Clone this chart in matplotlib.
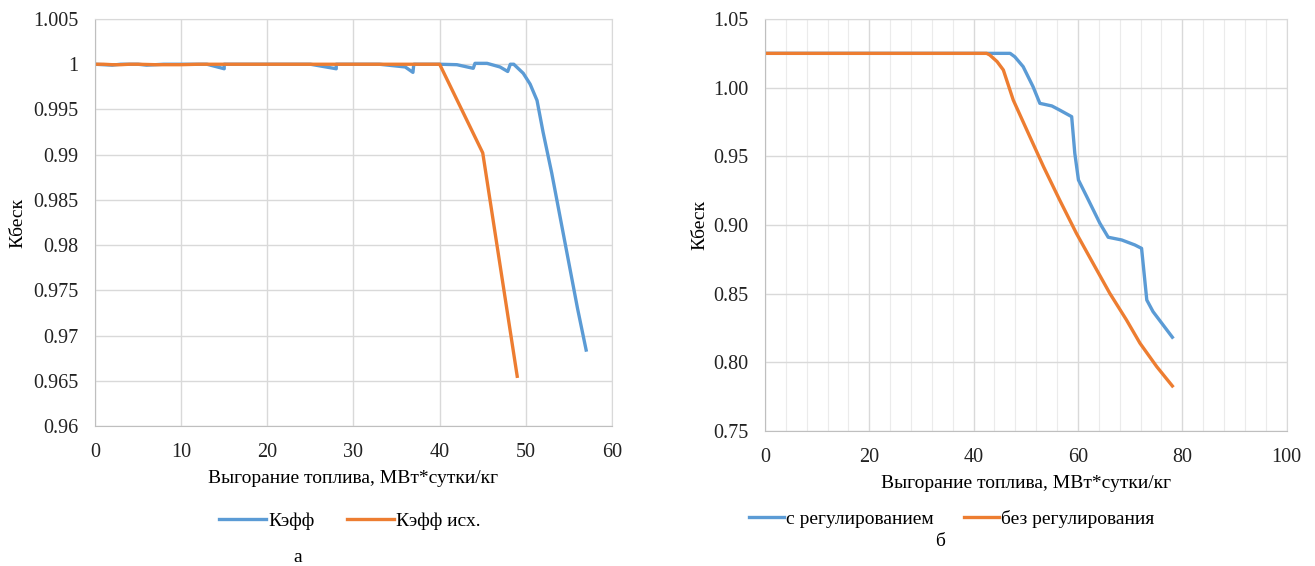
import matplotlib.pyplot as plt
from matplotlib.ticker import FuncFormatter, MultipleLocator

# --- data: left chart (а) ---
keff_x = [0, 2, 3, 5, 6, 8, 10, 13, 15, 15, 25, 28, 28, 33, 36, 36.9, 37, 40, 42,
          43.9, 44.1, 45.5, 47, 47.9, 48.2, 48.6, 49.7, 50.5, 51.3, 52, 53, 54, 55, 56, 57]
keff_y = [1.0, 0.9999, 1.0, 1.0, 0.9999, 1.0, 1.0, 1.0, 0.9995, 1.0, 1.0, 0.9995, 1.0,
          1.0, 0.9997, 0.9991, 1.0, 1.0, 0.99995, 0.99955, 1.0001, 1.0001, 0.9997,
          0.9992, 1.0, 1.0, 0.999, 0.9978, 0.996, 0.9925, 0.988, 0.983, 0.978, 0.973, 0.9684]
keff0_x = [0, 1, 2, 3, 4, 5, 7, 9, 10, 12, 13, 40, 45, 49]
keff0_y = [1.0, 1.0, 0.99995, 0.99995, 1.0, 1.0, 0.99995, 0.99995, 0.99995, 1.0, 1.0,
           1.0, 0.9902, 0.9655]

# --- data: right chart (б) ---
reg_x = [0, 47.0, 47.9, 49.5, 51.4, 52.7, 55.0, 56.5, 58.8, 59.4, 60.1, 61.7, 64.2,
         65.8, 68.4, 70.9, 72.2, 73.2, 74.4, 78.1]
reg_y = [1.025, 1.025, 1.0225, 1.0153, 1.0007, 0.9886, 0.9867, 0.9837, 0.9789, 0.9522,
         0.9328, 0.9206, 0.9013, 0.8911, 0.8891, 0.8855, 0.883, 0.8454, 0.8369, 0.8183]
noreg_x = [0, 42.5, 43.1, 44.5, 45.7, 47.6, 50.2, 53.4, 56.5, 59.7, 62.9, 66.1, 69.3,
           71.9, 75.1, 78.1]
noreg_y = [1.025, 1.025, 1.0238, 1.019, 1.0129, 0.991, 0.9692, 0.9425, 0.9182, 0.894,
           0.8721, 0.8503, 0.8309, 0.8139, 0.7969, 0.7828]

xlabel = "Выгорание топлива, МВт*сутки/кг"
ylabel = "Кбеск"

plt.rcParams["font.family"] = ["Liberation Serif", "DejaVu Serif"]
blue = "#5b9bd5"
orange = "#ed7d31"
grid_c = "#d9d9d9"

fig = plt.figure(figsize=(13.15, 5.66), dpi=100)
ax1 = fig.add_axes([0.0722, 0.2473, 0.3932, 0.7191])
ax2 = fig.add_axes([0.5817, 0.2385, 0.3967, 0.7279])


def style(ax):
    ax.grid(True, which="major", color=grid_c, lw=1)
    ax.set_axisbelow(True)
    for s in ax.spines.values():
        s.set_color(grid_c)
    ax.spines["left"].set_color("#bfbfbf")
    ax.spines["bottom"].set_color("#bfbfbf")
    ax.tick_params(length=0, labelsize=14.5, colors="#222222")
    ax.tick_params(axis="x", pad=12)
    ax.set_xlabel(xlabel, fontsize=14, labelpad=6)
    ax.set_ylabel(ylabel, fontsize=14)


# left chart
ax1.plot(keff_x, keff_y, color=blue, lw=2.4, label="Кэфф")
ax1.plot(keff0_x, keff0_y, color=orange, lw=2.4, label="Кэфф исх.")
ax1.set_xlim(0, 60)
ax1.set_ylim(0.96, 1.005)
ax1.xaxis.set_major_locator(MultipleLocator(10))
ax1.yaxis.set_major_locator(MultipleLocator(0.005))
ax1.yaxis.set_major_formatter(FuncFormatter(lambda v, p: f"{round(v, 4):g}"))
style(ax1)
ax1.tick_params(axis="y", pad=12)
ax1.yaxis.set_label_coords(-0.133, 0.5)
ax1.legend(loc="center", bbox_to_anchor=(0.493, -0.233), ncol=2, frameon=False,
           fontsize=14, handlelength=2.4, handletextpad=0.1, columnspacing=1.7)

# right chart
ax2.plot(reg_x, reg_y, color=blue, lw=2.4, label="с регулированием")
ax2.plot(noreg_x, noreg_y, color=orange, lw=2.4, label="без регулирования")
ax2.set_xlim(0, 100)
ax2.set_ylim(0.75, 1.05)
ax2.xaxis.set_major_locator(MultipleLocator(20))
ax2.xaxis.set_minor_locator(MultipleLocator(4))
ax2.yaxis.set_major_locator(MultipleLocator(0.05))
ax2.yaxis.set_major_formatter(FuncFormatter(lambda v, p: f"{v:.2f}"))
ax2.grid(True, which="minor", axis="x", color="#ebebeb", lw=0.8)
style(ax2)
ax2.tick_params(which="minor", length=0)
ax2.tick_params(axis="y", pad=12)
ax2.yaxis.set_label_coords(-0.109, 0.5)
ax2.legend(loc="center", bbox_to_anchor=(0.358, -0.214), ncol=2, frameon=False,
           fontsize=14, handlelength=1.8, handletextpad=0.1, columnspacing=1.6)

fig.text(298 / 1315, 1 - 558 / 566, "а", ha="center", va="center", fontsize=14)
fig.text(940 / 1315, 1 - 541 / 566, "б", ha="center", va="center", fontsize=14)

fig.savefig("out.png", dpi=100)
